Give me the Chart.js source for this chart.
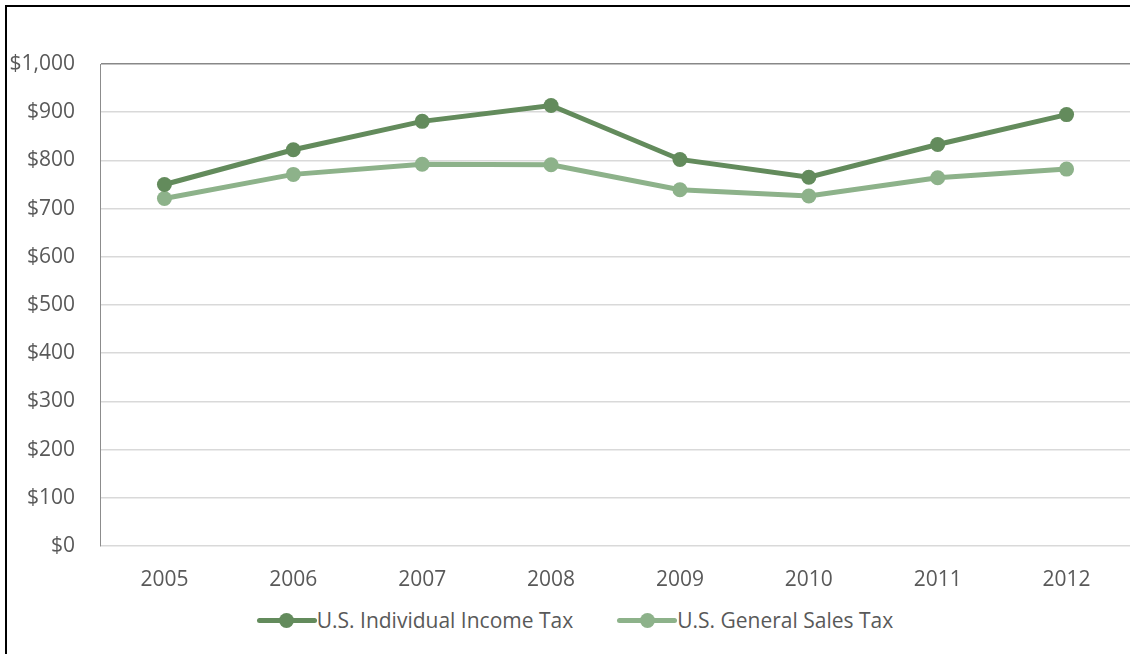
<!DOCTYPE html>
<html>
<head>
<meta charset="utf-8">
<script src="https://cdn.jsdelivr.net/npm/chart.js@4"></script>
<style>
  html, body { margin: 0; padding: 0; background: #fff; overflow: hidden; }
  #frame {
    position: absolute; left: 5px; top: 5px;
    width: 1300px; height: 800px;
    border-left: 2px solid #000; border-top: 2px solid #000;
  }
  #wrap { position: absolute; left: 0; top: 0; width: 1150px; height: 601px; }
  #legend {
    position: absolute; left: 0; top: 605px; width: 1150px; height: 30px;
    display: flex; justify-content: center; align-items: center; gap: 44px;
    font-family: 'Open Sans', sans-serif; font-size: 21px; color: #595959;
  }
  .item { display: flex; align-items: center; white-space: nowrap; }
  .marker { position: relative; width: 60px; height: 5px; border-radius: 3px; }
  .marker::after {
    content: ""; position: absolute; left: 22.5px; top: -5px;
    width: 15px; height: 15px; border-radius: 50%; background: inherit;
  }
</style>
</head>
<body>
<div id="frame"></div>
<div id="wrap"><canvas id="taxChart"></canvas></div>
<div id="legend"></div>
<script>
const years = ["2005", "2006", "2007", "2008", "2009", "2010", "2011", "2012"];
const incomeTax = [750, 822, 881, 914, 802, 765, 833, 895];
const salesTax = [721, 771, 792, 791, 739, 726, 764, 782];
const seriesNames = ["U.S. Individual Income Tax", "U.S. General Sales Tax"];

const darkGreen = "#638b5c";
const lightGreen = "#8db28a";
const textGrey = "#595959";
const fontFamily = "'Open Sans', sans-serif";

const ctx = document.getElementById("taxChart").getContext("2d");

const chart = new Chart(ctx, {
  type: "line",
  data: {
    labels: years,
    datasets: [
      {
        label: seriesNames[0],
        data: incomeTax,
        borderColor: darkGreen,
        backgroundColor: darkGreen,
        borderWidth: 5,
        pointRadius: 7.5,
        pointHoverRadius: 7.5,
        pointBorderWidth: 0,
        tension: 0
      },
      {
        label: seriesNames[1],
        data: salesTax,
        borderColor: lightGreen,
        backgroundColor: lightGreen,
        borderWidth: 5,
        pointRadius: 7.5,
        pointHoverRadius: 7.5,
        pointBorderWidth: 0,
        tension: 0
      }
    ]
  },
  options: {
    responsive: true,
    maintainAspectRatio: false,
    animation: false,
    layout: { padding: { top: 64, right: 19, bottom: 0, left: 0 } },
    plugins: {
      tooltip: { enabled: false },
      legend: { display: false }
    },
    scales: {
      x: {
        offset: true,
        grid: { display: false, drawTicks: false },
        border: { display: false },
        ticks: {
          color: textGrey,
          font: { family: fontFamily, size: 21 },
          padding: 21,
          maxRotation: 0
        },
        afterFit: (scale) => { scale.height = 55; }
      },
      y: {
        min: 0,
        max: 1000,
        grid: {
          drawTicks: false,
          lineWidth: 1.5,
          color: (c) => (c.tick && c.tick.value === 1000 ? "#888888" : "#d9d9d9")
        },
        border: { display: true, color: "#8c8c8c", width: 1 },
        ticks: {
          stepSize: 100,
          color: textGrey,
          font: { family: fontFamily, size: 21 },
          padding: 25,
          callback: (v) => "$" + v.toLocaleString("en-US")
        },
        afterFit: (scale) => { scale.width = 100; }
      }
    }
  }
});

// html legend built from the chart's datasets
const legendEl = document.getElementById("legend");
chart.data.datasets.forEach((ds) => {
  const item = document.createElement("div");
  item.className = "item";
  const marker = document.createElement("span");
  marker.className = "marker";
  marker.style.background = ds.borderColor;
  const label = document.createElement("span");
  label.textContent = ds.label;
  item.appendChild(marker);
  item.appendChild(label);
  legendEl.appendChild(item);
});
</script>
</body>
</html>
